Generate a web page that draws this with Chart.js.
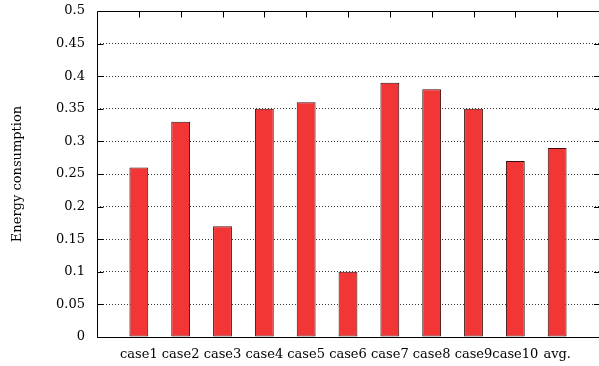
<!DOCTYPE html>
<html>
<head>
<meta charset="utf-8">
<script src="https://cdn.jsdelivr.net/npm/chart.js@4"></script>
<style>
html,body{margin:0;padding:0;background:#fff;overflow:hidden}
#wrap{width:599px;height:366px;position:relative}
</style>
</head>
<body>
<div id="wrap"><canvas id="c" width="599" height="366"></canvas></div>
<script>
const categories = ['case1','case2','case3','case4','case5','case6','case7','case8','case9','case10','avg.'];
const energy = [0.26, 0.33, 0.17, 0.35, 0.36, 0.10, 0.39, 0.38, 0.35, 0.27, 0.29];
const yTicks = [0, 0.05, 0.1, 0.15, 0.2, 0.25, 0.3, 0.35, 0.4, 0.45, 0.5];
const yTitle = 'Energy consumption';

const FONT = "'DejaVu Serif', serif";

const framePlugin = {
  id: 'frame',
  afterDraw(chart) {
    const {ctx, chartArea: a, scales} = chart;
    ctx.save();
    ctx.strokeStyle = '#000';
    ctx.lineWidth = 1;
    const L = Math.round(a.left) + 0.5, T = Math.round(a.top) + 0.5, B = Math.round(a.bottom) + 0.5, R = a.right + 2;
    ctx.beginPath();
    ctx.moveTo(R, T); ctx.lineTo(L, T); ctx.lineTo(L, B); ctx.lineTo(R, B);
    ctx.stroke();
    ctx.beginPath();
    categories.forEach((c, i) => {
      const x = Math.round(scales.x.getPixelForValue(i)) + 0.5;
      ctx.moveTo(x, T); ctx.lineTo(x, T + 6);
    });
    yTicks.forEach(v => {
      const y = Math.round(scales.y.getPixelForValue(v)) + 0.5;
      ctx.moveTo(L, y); ctx.lineTo(L + 6, y);
      ctx.moveTo(a.right, y); ctx.lineTo(a.right - 5, y);
    });
    ctx.stroke();
    ctx.restore();
  }
};

new Chart(document.getElementById('c'), {
  type: 'bar',
  data: {
    datasets: [{
      data: energy.map((v, i) => ({x: i, y: v})),
      backgroundColor: '#f23535',
      borderColor: '#3a0c0c',
      borderWidth: 1,
      borderSkipped: false,
      barPercentage: 0.45,
      categoryPercentage: 1
    }]
  },
  options: {
    responsive: false,
    animation: false,
    events: [],
    layout: {padding: {top: 0, right: 0, left: 0, bottom: 0}},
    plugins: {legend: {display: false}, tooltip: {enabled: false}},
    scales: {
      x: {
        type: 'linear',
        offset: false,
        min: -1, max: 11,
        afterFit(s) { s.height = 29; s.paddingLeft = 0; s.paddingRight = 0; },
        afterBuildTicks(s) { s.ticks = categories.map((c, i) => ({value: i})); },
        ticks: {
          autoSkip: false, maxRotation: 0, minRotation: 0,
          padding: 10,
          color: '#000',
          font: {family: FONT, size: 13},
          callback: (v) => categories[v] ?? ''
        },
        grid: {display: false, drawTicks: false, offset: false},
        border: {display: false}
      },
      y: {
        min: 0, max: 0.5,
        afterFit(s) { s.width = 97; s.paddingTop = 11; s.paddingBottom = 0; },
        afterBuildTicks(s) { s.ticks = yTicks.map(v => ({value: v})); },
        ticks: {
          padding: 12,
          color: '#000',
          font: {family: FONT, size: 13},
          callback: (v) => String(+v.toFixed(2))
        },
        grid: {
          drawTicks: false,
          color: (ctx) => (ctx.tick && (ctx.tick.value === 0 || ctx.tick.value === 0.5)) ? 'rgba(0,0,0,0)' : '#333',
          lineWidth: 1
        },
        border: {display: false, dash: [1, 2]},
        title: {
          display: true,
          text: yTitle,
          color: '#000',
          font: {family: FONT, size: 13},
          padding: {top: 10, bottom: 0}
        }
      }
    }
  },
  plugins: [framePlugin]
});
</script>
</body>
</html>
